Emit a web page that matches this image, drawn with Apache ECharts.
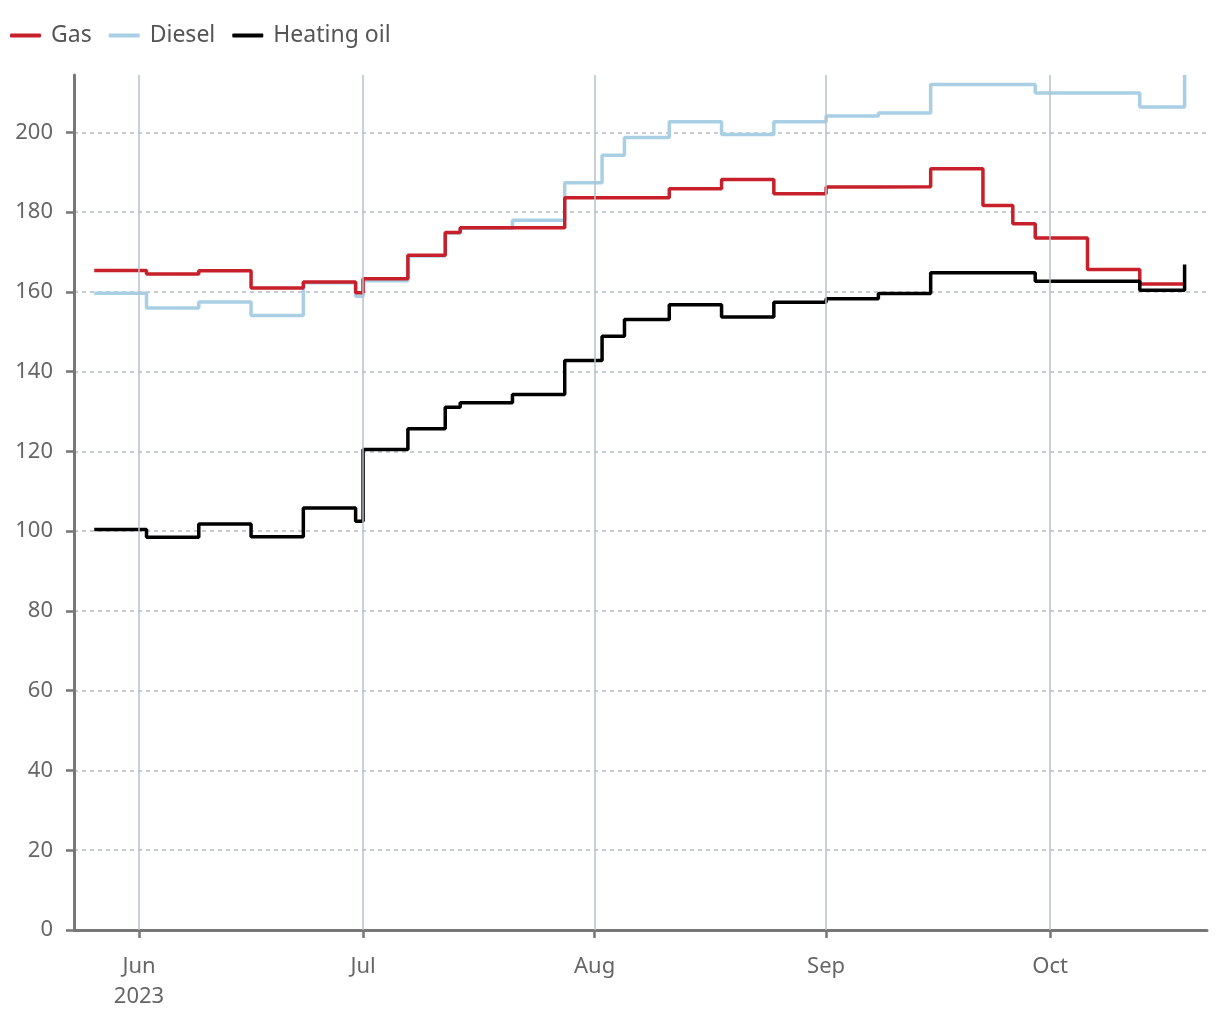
<!DOCTYPE html>
<html>
<head>
<meta charset="utf-8">
<script src="https://cdn.jsdelivr.net/npm/echarts@6/dist/echarts.min.js"></script>
<style>
html,body{margin:0;padding:0;background:#fff;}
#chart{width:1220px;height:1020px;}
</style>
</head>
<body>
<div id="chart"></div>
<script>
const dates = ['2023-05-26','2023-06-02','2023-06-09','2023-06-16','2023-06-23','2023-06-30','2023-07-01','2023-07-07','2023-07-12','2023-07-14','2023-07-21','2023-07-28','2023-08-02','2023-08-05','2023-08-11','2023-08-18','2023-08-25','2023-09-01','2023-09-08','2023-09-15','2023-09-22','2023-09-26','2023-09-29','2023-10-06','2023-10-13','2023-10-19'];
const gas = [165.4,164.5,165.3,161.0,162.5,159.8,163.3,169.2,174.9,176.1,176.1,183.6,183.6,183.6,185.9,188.2,184.6,186.3,186.4,190.9,181.7,177.1,173.5,165.6,162.0,162.0];
const diesel = [159.7,156.0,157.5,154.1,162.3,158.9,162.8,169.0,174.8,176.0,178.0,187.4,194.3,198.7,202.7,199.5,202.7,204.1,204.9,212.0,212.0,212.0,209.9,209.9,206.4,214.4];
const heatingOil = [100.4,98.5,101.8,98.6,105.8,102.5,120.5,125.7,131.1,132.2,134.3,142.8,148.9,153.1,156.8,153.7,157.4,158.3,159.6,164.8,164.8,164.8,162.7,162.7,160.4,166.9];
const seriesNames = ['Gas','Diesel','Heating oil'];
const monthTickDates = ['2023-06-01','2023-07-01','2023-08-01','2023-09-01','2023-10-01'];
const monthTickLabels = ['Jun\n2023','Jul','Aug','Sep','Oct'];
const yTickValues = [0,20,40,60,80,100,120,140,160,180,200];

function ts(s){ const p = s.split('-').map(Number); return new Date(p[0], p[1]-1, p[2]).getTime(); }
const tickTs = monthTickDates.map(ts);
const pair = arr => dates.map((d,i)=>[ts(d), arr[i]]);

const font = '"Noto Sans", sans-serif';
const chart = echarts.init(document.getElementById('chart'), null, {renderer:'canvas'});
chart.setOption({
  animation: false,
  textStyle: {fontFamily: font},
  legend: {
    left: 10, top: 24, padding: 0,
    itemWidth: 31, itemHeight: 4, itemGap: 17,
    icon: 'roundRect',
    textStyle: {fontSize: 23, color: '#555', fontFamily: font, padding:[0,0,0,5]},
    data: seriesNames
  },
  grid: {left: 74, right: 13, top: 75, bottom: 90, containLabel: false, outerBoundsMode: 'none'},
  xAxis: {
    type: 'value',
    min: new Date(2023,4,23,7).getTime(),
    max: new Date(2023,9,22).getTime(),
    axisLine: {show: true, lineStyle: {color: '#777', width: 3}},
    axisTick: {show: true, length: 8, lineStyle: {color: '#777', width: 2.5}, customValues: tickTs},
    axisLabel: {
      customValues: tickTs,
      fontSize: 22, color: '#666', fontFamily: font, margin: 22, lineHeight: 30,
      formatter: function(v){ const i = tickTs.indexOf(v); return i >= 0 ? monthTickLabels[i] : ''; }
    },
    splitLine: {show: false}
  },
  yAxis: {
    type: 'value', min: 0, max: 'dataMax', interval: 20,
    axisLine: {show: true, lineStyle: {color: '#777', width: 3}},
    axisTick: {show: true, length: 8, lineStyle: {color: '#777', width: 2.5}, customValues: yTickValues},
    axisLabel: {customValues: yTickValues, fontSize: 22, color: '#666', fontFamily: font, margin: 21},
    splitLine: {show: true, showMaxLine: true, showMinLine: false, lineStyle: {color: '#b4bcc3', width: 1.5, type: [4,4]}}
  },
  series: [
    {
      name: 'monthLines', type: 'line', data: [], z: 1, silent: true,
      markLine: {
        silent: true, symbol: 'none', label: {show: false},
        lineStyle: {color: '#b6c2ca', width: 1.5, type: 'solid'},
        data: tickTs.map(t => ({xAxis: t}))
      }
    },
    {name: 'Diesel', type: 'line', step: 'end', data: pair(diesel), showSymbol: false, z: 2,
     color: '#a8cfe4', lineStyle: {width: 3.5, color: '#a8cfe4'}},
    {name: 'Gas', type: 'line', step: 'end', data: pair(gas), showSymbol: false, z: 3,
     color: '#c8202a', lineStyle: {width: 3.5, color: '#c8202a'}},
    {name: 'Heating oil', type: 'line', step: 'end', data: pair(heatingOil), showSymbol: false, z: 4,
     color: '#000000', lineStyle: {width: 3.5, color: '#000000'}}
  ]
});
</script>
</body>
</html>
